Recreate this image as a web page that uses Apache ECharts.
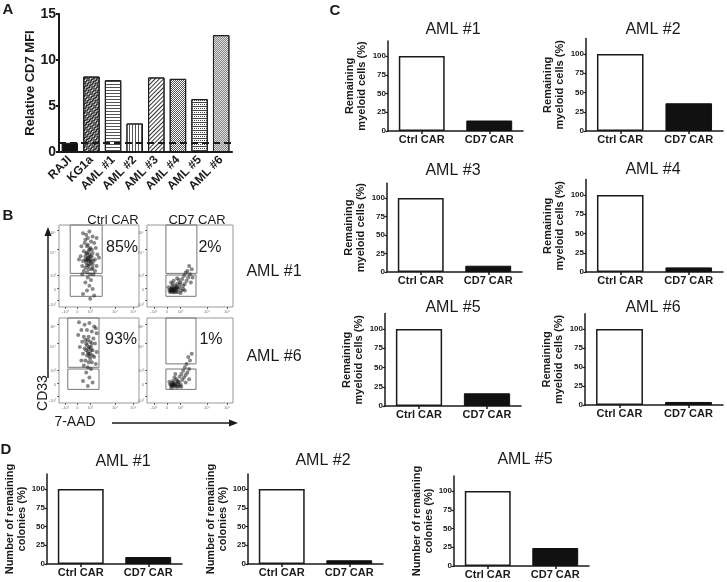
<!DOCTYPE html>
<html>
<head>
<meta charset="utf-8">
<script src="https://cdn.jsdelivr.net/npm/echarts@6/dist/echarts.min.js"></script>
<style>
  html, body { margin: 0; padding: 0; background: #fff; }
  #chart { width: 727px; height: 582px; }
</style>
</head>
<body>
<div id="chart"></div>
<script>
// panel A data
const aCategories = ['RAJI', 'KG1a', 'AML #1', 'AML #2', 'AML #3', 'AML #4', 'AML #5', 'AML #6'];
const aValues = [1.0, 8.2, 7.8, 3.1, 8.1, 7.95, 5.75, 12.7];
const aThreshold = 1;

// panel B data (percent in upper gate, hand-read cloud points, 0-100 display units)
const bColumns = ['Ctrl CAR', 'CD7 CAR'];
const bRows = ['AML #1', 'AML #6'];
const bPercents = ['85%', '2%', '93%', '1%'];
const bPointsTL = [[30,90],[34,88],[38,92],[42,86],[36,84],[40,80],[32,78],[44,78],[28,74],[35,74],[39,72],[46,72],[31,68],[37,68],[42,66],[48,64],[27,62],[33,62],[36,60],[40,58],[45,58],[30,56],[34,54],[38,52],[42,52],[47,50],[29,50],[33,48],[37,46],[41,46],[45,44],[31,44],[35,42],[39,40],[43,40],[36,36],[40,33],[33,30],[38,26],[42,22],[35,20],[30,16],[44,14],[39,10],[50,60],[25,58],[37,56],[39,62],[35,65],[41,70],[33,82],[47,84],[29,40],[37,50],[36,58],[40,54],[34,57],[38,64],[43,56],[35,51],[39,56],[37,60],[34,66],[41,62],[38,70],[36,76],[33,58],[42,48]];
const bPointsTR = [[26,20],[28,22],[30,19],[32,23],[29,25],[27,18],[31,21],[34,20],[33,26],[36,22],[38,24],[35,28],[30,28],[40,20],[42,26],[39,30],[44,28],[37,33],[41,34],[46,32],[48,36],[43,38],[50,40],[47,44],[52,46],[49,50],[45,42],[28,30],[25,24],[33,18],[36,18],[39,17],[44,20],[51,30],[53,36],[31,32],[35,35],[29,20],[32,20],[34,24],[30,23],[27,21],[38,28],[42,22],[28,19],[31,18],[33,22],[35,24],[29,22]];
const bPointsBL = [[25,95],[32,92],[38,94],[44,90],[28,86],[35,86],[41,84],[47,82],[24,80],[31,78],[37,78],[43,76],[29,72],[34,70],[39,72],[45,70],[26,66],[32,64],[37,64],[42,62],[47,60],[30,58],[35,56],[39,58],[44,54],[28,50],[33,50],[37,48],[41,48],[46,46],[31,44],[36,42],[40,40],[34,36],[38,30],[30,26],[42,24],[36,20],[38,66],[36,60],[40,66],[34,62],[39,52],[42,56],[33,74],[46,88],[37,58],[40,62],[35,68],[38,55],[41,70],[36,74]];
const bPointsBR = [[27,22],[29,20],[31,24],[33,21],[30,26],[28,18],[35,22],[37,25],[34,28],[39,22],[41,27],[38,31],[43,30],[40,34],[45,33],[42,38],[47,36],[44,42],[49,40],[46,46],[50,50],[48,54],[52,58],[32,30],[26,25],[36,19],[31,19],[40,19],[45,24],[49,28],[33,34],[29,23],[32,22],[35,26],[38,20],[30,21],[28,21],[31,22],[34,19],[36,24]];
const bTickPos = [8, 23, 39, 70, 93];
const bTickLabels = ['-10³', '0', '10³', '10⁴', '10⁵'];

// panel C data
const cGroups = ['Ctrl CAR', 'CD7 CAR'];
const cTitles = ['AML #1', 'AML #2', 'AML #3', 'AML #4', 'AML #5', 'AML #6'];
const cValues = [[100, 14], [100, 36], [100, 8.5], [100, 6], [100, 16.5], [100, 4]];

// panel D data
const dTitles = ['AML #1', 'AML #2', 'AML #5'];
const dValues = [[100, 9.3], [100, 5], [100, 24]];

const pctTicks = [0, 25, 50, 75, 100];

const FONT = '"Liberation Sans", Arial, sans-serif';
const INK = '#1a1a1a';

// fill patterns for panel A bars
const aStyles = [
  { color: '#111' },
  { color: '#fff', decal: { symbol: 'rect', symbolSize: 1, dashArrayX: [[2, 1], [0, 1, 2, 0]], dashArrayY: [1, 0], rotation: Math.PI / 4, color: '#222' } },
  { color: '#fff', decal: { symbol: 'rect', symbolSize: 1, dashArrayX: [1, 0], dashArrayY: [1, 1.5], color: '#555' } },
  { color: '#fff', decal: { symbol: 'rect', symbolSize: 1, dashArrayX: [1, 1.5], dashArrayY: [1, 0], color: '#555' } },
  { color: '#fff', decal: { symbol: 'rect', symbolSize: 1, dashArrayX: [1, 0], dashArrayY: [1, 1.5], rotation: -Math.PI / 4, color: '#333' } },
  { color: '#fff', decal: { symbol: 'rect', symbolSize: 1, dashArrayX: [[1, 1], [0, 1, 1, 0]], dashArrayY: [1, 0], color: '#555' } },
  { color: '#fff', decal: { symbol: 'rect', symbolSize: 1, dashArrayX: [[2, 0], [1, 1]], dashArrayY: [1, 0.6], color: '#444' } },
  { color: '#ddd', decal: { symbol: 'rect', symbolSize: 1, dashArrayX: [[1, 1], [0, 1, 1, 0]], dashArrayY: [1, 0], color: '#888' } }
];

const grid = [], xAxis = [], yAxis = [], series = [], graphic = [];

function text(str, x, y, size, opts) {
  graphic.push(Object.assign({
    type: 'text', x: x, y: y,
    style: { text: str, font: (opts && opts.bold ? 'bold ' : '') + size + 'px ' + FONT, fill: INK, align: 'center', verticalAlign: 'middle' }
  }, opts && opts.extra));
}

// ---------- panel A ----------
grid.push({ left: 59, top: 14, width: 173, height: 138 });
xAxis.push({
  gridIndex: 0, type: 'category', data: aCategories,
  axisLine: { lineStyle: { color: INK, width: 2 } },
  axisTick: { show: false },
  axisLabel: { rotate: 45, interval: 0, fontSize: 12, fontWeight: 'bold', color: INK, margin: 6, fontFamily: FONT }
});
yAxis.push({
  gridIndex: 0, type: 'value', min: 0, max: 15, interval: 5,
  axisLine: { show: true, lineStyle: { color: INK, width: 2 } },
  axisTick: { show: true, length: 3, lineStyle: { width: 2 } },
  axisLabel: { fontSize: 14, fontWeight: 'bold', color: INK, margin: 3, fontFamily: FONT },
  splitLine: { show: false },
  name: 'Relative CD7 MFI', nameLocation: 'middle', nameGap: 22,
  nameTextStyle: { fontSize: 13, fontWeight: 'bold', color: INK, fontFamily: FONT }
});
series.push({
  type: 'bar', xAxisIndex: 0, yAxisIndex: 0, barWidth: '76%',
  data: aValues.map((v, i) => ({ value: v, itemStyle: Object.assign({ borderColor: INK, borderWidth: 1 }, aStyles[i]) })),
  markLine: {
    silent: true, symbol: 'none', label: { show: false },
    lineStyle: { color: INK, type: [7, 4], width: 2 },
    data: [{ yAxis: aThreshold }]
  }
});

// ---------- panel B ----------
const bBoxes = [
  { left: 59, top: 225, width: 80, height: 82, pts: bPointsTL, gates: [[14, 41, 54, 100], [14, 13, 54, 38]] },
  { left: 147, top: 225, width: 86, height: 82, pts: bPointsTR, gates: [[22, 41, 58, 100], [22, 13, 57, 39]] },
  { left: 59, top: 318, width: 80, height: 85, pts: bPointsBL, gates: [[11, 42, 50, 100], [11, 16, 50, 40]] },
  { left: 147, top: 318, width: 86, height: 85, pts: bPointsBR, gates: [[22, 46, 57, 100], [22, 16, 57, 40]] }
];
bBoxes.forEach(b => {
  const gi = grid.length;
  grid.push({ left: b.left, top: b.top, width: b.width, height: b.height, show: true, borderColor: '#999', borderWidth: 1 });
  const small = { fontSize: 4, color: '#777', margin: 3, fontFamily: FONT, customValues: bTickPos, formatter: v => bTickLabels[bTickPos.indexOf(v)] || '' };
  xAxis.push({ gridIndex: gi, type: 'value', min: 0, max: 100, axisLine: { show: false },
    axisTick: { show: true, length: 2, customValues: bTickPos, lineStyle: { color: '#666' } },
    axisLabel: small, splitLine: { show: false } });
  yAxis.push({ gridIndex: gi, type: 'value', min: 0, max: 100, axisLine: { show: false },
    axisTick: { show: true, length: 2, customValues: bTickPos, lineStyle: { color: '#666' } },
    axisLabel: Object.assign({}, small, { customValues: [2, 21, 38, 66, 90], formatter: v => ({ 2: '-10³', 21: '0', 38: '10³', 66: '10⁴', 90: '10⁵' })[v] || '' }),
    splitLine: { show: false } });
  series.push({
    type: 'scatter', xAxisIndex: gi, yAxisIndex: gi, symbolSize: 4, silent: true,
    itemStyle: { color: '#111', opacity: 0.5 },
    data: b.pts,
    markArea: {
      silent: true,
      itemStyle: { color: 'rgba(0,0,0,0)', borderColor: '#777', borderWidth: 1 },
      data: b.gates.map(g => [{ coord: [g[0], g[1]] }, { coord: [g[2], g[3]] }])
    }
  });
});
text(bColumns[0], 113, 220, 13);
text(bColumns[1], 197, 220, 13);
text(bPercents[0], 122, 248, 16);
text(bPercents[1], 210, 248, 16);
text(bPercents[2], 121, 340, 16);
text(bPercents[3], 211, 340, 16);
text(bRows[0], 274, 272, 16);
text(bRows[1], 274, 357, 16);
text('CD33', 43, 393, 14, { extra: { rotation: Math.PI / 2 } });
text('7-AAD', 75, 422, 14);
graphic.push({ type: 'line', shape: { x1: 48, y1: 378, x2: 48, y2: 234 }, style: { stroke: INK, lineWidth: 1.5 } });
graphic.push({ type: 'polygon', shape: { points: [[48, 227], [44.5, 236], [51.5, 236]] }, style: { fill: INK } });
graphic.push({ type: 'line', shape: { x1: 112, y1: 423, x2: 231, y2: 423 }, style: { stroke: INK, lineWidth: 1.5 } });
graphic.push({ type: 'polygon', shape: { points: [[238, 423], [229, 419.5], [229, 426.5]] }, style: { fill: INK } });

// ---------- bar panels C and D ----------
function barPanel(box, title, values, yName, nameGap) {
  const gi = grid.length;
  const y0 = box.y0, y100 = box.y100;
  const h = (y0 - y100) * 1.2;
  grid.push({ left: box.left, top: y0 - h, width: box.width, height: h });
  xAxis.push({
    gridIndex: gi, type: 'category', data: cGroups,
    axisLine: { lineStyle: { color: INK, width: 1.5 } },
    axisTick: { show: true, alignWithLabel: true, length: 3, lineStyle: { width: 1.5 } },
    axisLabel: { fontSize: 11, fontWeight: 'bold', color: INK, margin: 3, fontFamily: FONT }
  });
  yAxis.push({
    gridIndex: gi, type: 'value', min: 0, max: 120,
    axisLine: { show: true, lineStyle: { color: INK, width: 1.5 } },
    axisTick: { show: true, length: 2.5, customValues: pctTicks, lineStyle: { width: 1.2 } },
    axisLabel: { fontSize: 8, fontWeight: 'bold', color: INK, margin: 2, customValues: pctTicks, fontFamily: FONT },
    splitLine: { show: false },
    name: yName, nameLocation: 'middle', nameGap: nameGap,
    nameTextStyle: { fontSize: 11, fontWeight: 'bold', color: INK, lineHeight: 12, fontFamily: FONT }
  });
  series.push({
    type: 'bar', xAxisIndex: gi, yAxisIndex: gi, barWidth: '68%', silent: true,
    data: values.map((v, j) => ({
      value: v,
      itemStyle: j === 0 ? { color: '#fff', borderColor: INK, borderWidth: 1.5 } : { color: '#111', borderColor: '#111', borderWidth: 1 }
    }))
  });
  text(title, box.tx, box.ty, 16);
}

const cBoxes = [
  { left: 388, width: 135, y0: 131, y100: 56, tx: 453, ty: 30 },
  { left: 586, width: 137, y0: 131, y100: 54, tx: 653, ty: 30 },
  { left: 387, width: 135, y0: 272, y100: 198, tx: 453, ty: 171 },
  { left: 586, width: 137, y0: 272, y100: 195, tx: 653, ty: 170 },
  { left: 385, width: 136, y0: 406, y100: 329, tx: 453, ty: 308 },
  { left: 585, width: 138, y0: 405, y100: 329, tx: 653, ty: 308 }
];
cBoxes.forEach((b, i) => barPanel(b, cTitles[i], cValues[i], 'Remaining\nmyeloid cells (%)', 20));

const dBoxes = [
  { left: 47, width: 135, y0: 564, y100: 489, tx: 123, ty: 462 },
  { left: 248, width: 135, y0: 564, y100: 489, tx: 323, ty: 461 },
  { left: 454, width: 135, y0: 566, y100: 491, tx: 525, ty: 460 }
];
dBoxes.forEach((b, i) => barPanel(b, dTitles[i], dValues[i], 'Number of remaining\ncolonies (%)', 16));

// panel letters
text('A', 8, 10, 15, { bold: true });
text('B', 8, 216, 15, { bold: true });
text('C', 335, 11, 15, { bold: true });
text('D', 6, 450, 15, { bold: true });

const chart = echarts.init(document.getElementById('chart'), null, { renderer: 'canvas' });
chart.setOption({
  animation: false,
  backgroundColor: '#fff',
  textStyle: { fontFamily: FONT },
  grid: grid,
  xAxis: xAxis,
  yAxis: yAxis,
  series: series,
  graphic: graphic
});
</script>
</body>
</html>
